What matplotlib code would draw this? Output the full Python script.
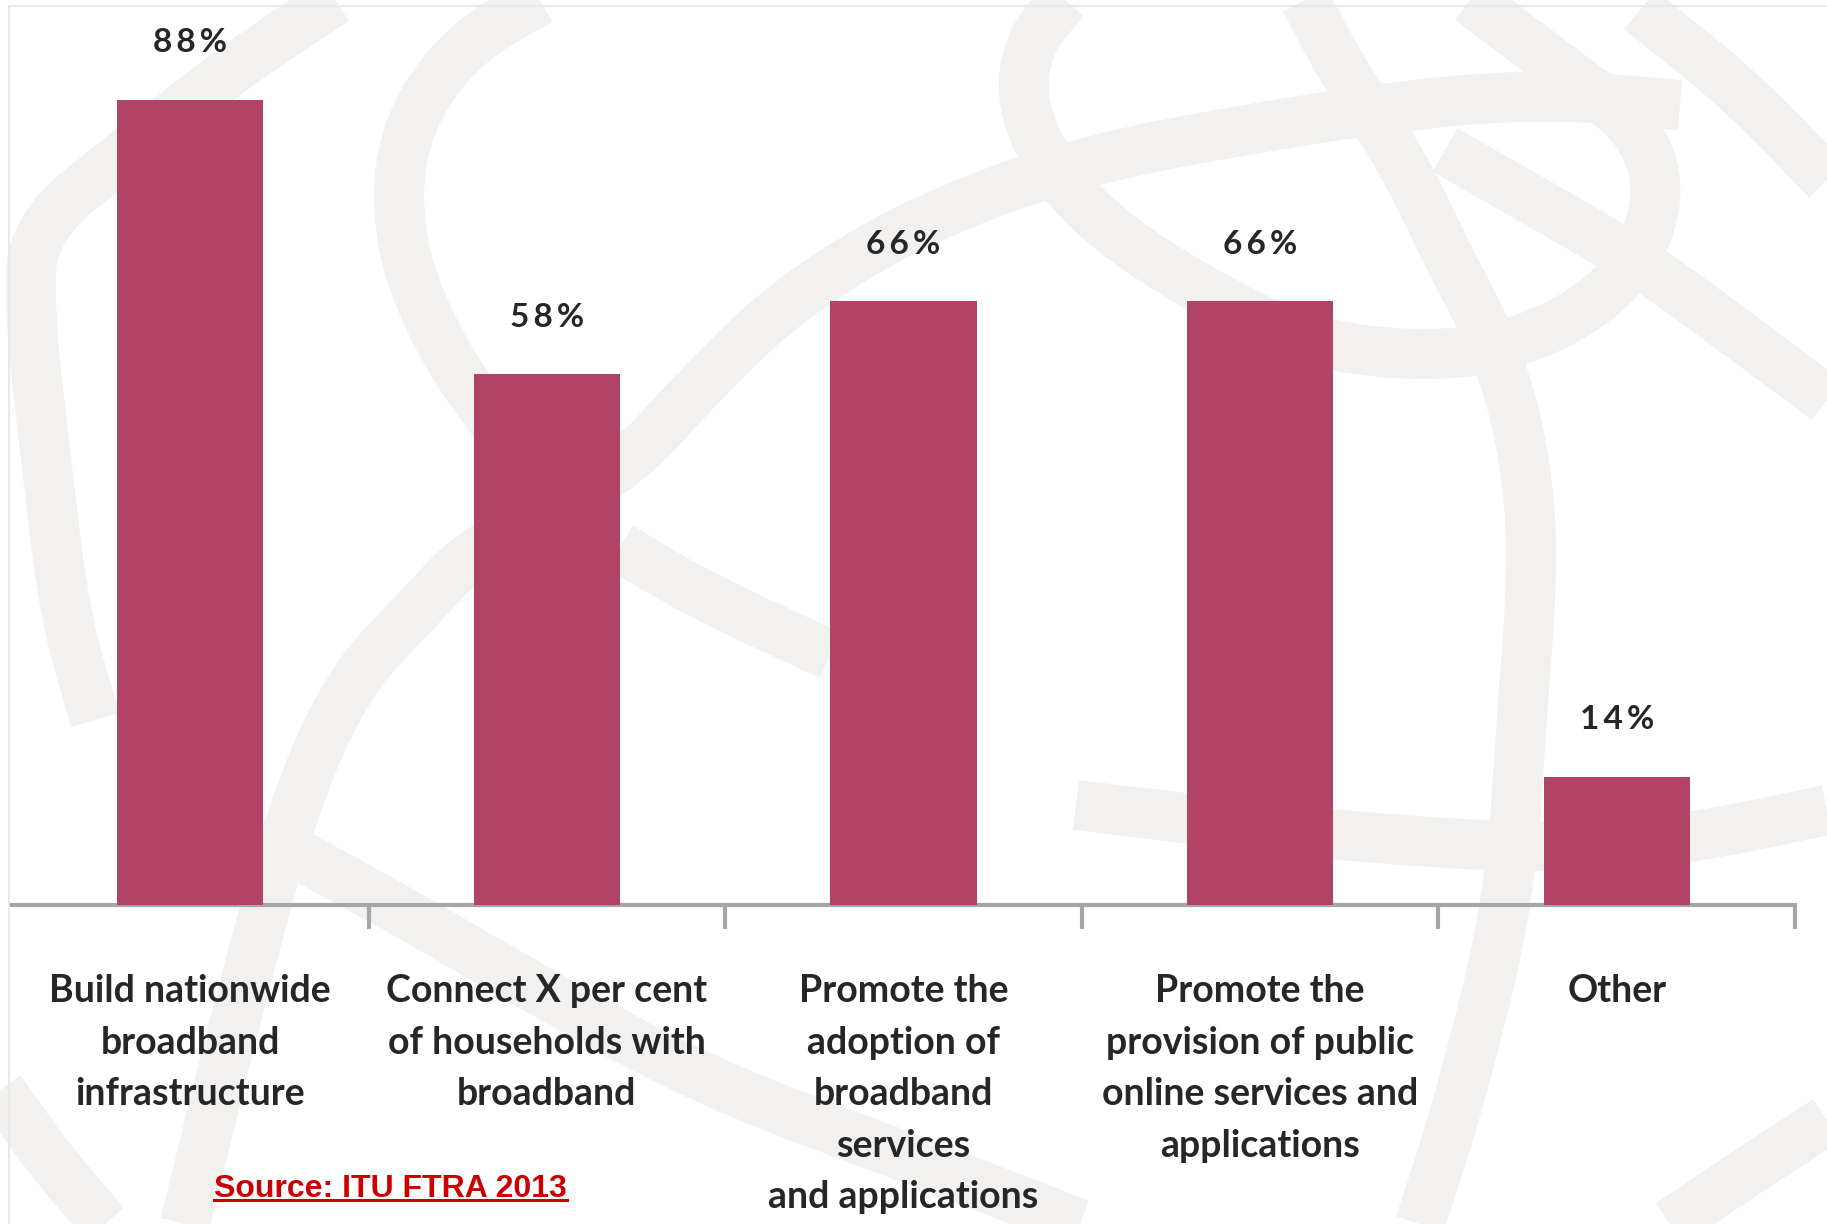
import numpy as np
import matplotlib.pyplot as plt
from matplotlib.lines import Line2D

# data
categories = [
    "Build nationwide\nbroadband\ninfrastructure",
    "Connect X per cent\nof households with\nbroadband",
    "Promote the\nadoption of\nbroadband\nservices\nand applications",
    "Promote the\nprovision of public\nonline services and\napplications",
    "Other",
]
shares = [88, 58, 66, 66, 14]
value_labels = ["88%", "58%", "66%", "66%", "14%"]
source_note = "Source: ITU FTRA 2013"

BAR = "#b04366"
AXIS = "#a6a6a6"
TXT = "#262626"
WM = "#f2f1ef"

W, H = 1827, 1224
fig = plt.figure(figsize=(W / 100, H / 100), dpi=100)
fig.patch.set_facecolor("white")

# faint ITU globe watermark, pixel coordinates with y pointing down
bg = fig.add_axes([0, 0, 1, 1], zorder=0)
bg.set_xlim(0, W)
bg.set_ylim(H, 0)
bg.axis("off")

strokes = [
    # left rim of the globe
    [(335, 0), (230, 70), (130, 150), (32, 228), (30, 320), (45, 450), (64, 612), (95, 720)],
    # inner "C"
    [(540, 0), (470, 40), (420, 100), (397, 170), (402, 250), (428, 320), (462, 380), (500, 430)],
    # long latitude from bottom-left to top-right
    [(185, 1224), (240, 1000), (295, 800), (350, 680), (420, 607), (473, 550), (620, 473),
     (700, 385), (787, 300), (914, 222), (1080, 160), (1300, 120), (1450, 100), (1560, 95),
     (1680, 105)],
    [(620, 547), (700, 595), (830, 655)],
    [(290, 850), (400, 910), (520, 980), (700, 1080), (914, 1160), (1080, 1224)],
    [(0, 1090), (50, 1160), (105, 1224)],
    # lower latitude on the right
    [(1076, 805), (1200, 820), (1333, 835), (1500, 847), (1600, 845), (1693, 838), (1827, 810)],
    # upper loop
    [(1065, 0), (1030, 40), (1020, 100), (1050, 170), (1110, 232), (1200, 290), (1300, 340),
     (1400, 356), (1500, 350), (1590, 310), (1645, 250), (1660, 180), (1635, 125), (1590, 90),
     (1530, 45), (1470, 0)],
    # meridian
    [(1305, 0), (1345, 75), (1400, 157), (1450, 260), (1490, 337), (1518, 420), (1532, 520),
     (1530, 612), (1523, 700), (1510, 900), (1460, 1100), (1420, 1224)],
    [(1445, 150), (1620, 250), (1672, 285), (1827, 400)],
    [(1640, 10), (1740, 90), (1827, 180)],
    [(1670, 1224), (1750, 1170), (1827, 1120)],
]


def chaikin(pts, n=3):
    # corner cutting so the watermark strokes look round
    p = np.asarray(pts, dtype=float)
    for _ in range(n):
        q = 0.75 * p[:-1] + 0.25 * p[1:]
        r = 0.25 * p[:-1] + 0.75 * p[1:]
        mid = np.empty((2 * len(q), 2))
        mid[0::2] = q
        mid[1::2] = r
        p = np.vstack([p[:1], mid, p[-1:]])
    return p


for s in strokes:
    p = chaikin(s)
    bg.plot(p[:, 0], p[:, 1], color=WM, lw=36, solid_capstyle="butt",
            solid_joinstyle="round")

# light frame
bg.plot([9, 9, W], [H, 6, 6], color="#e9e9e9", lw=1.5)

# main chart
ax = fig.add_axes([12 / W, (H - 905) / H, 1783 / W, 95 * 9.15 / H], zorder=1)
ax.patch.set_alpha(0)
x = np.arange(len(shares))
ax.bar(x, shares, width=0.41, color=BAR, zorder=3)
ax.set_xlim(-0.5, 4.5)
ax.set_ylim(0, 95)

for s in ["top", "right", "left"]:
    ax.spines[s].set_visible(False)
ax.spines["bottom"].set_color(AXIS)
ax.spines["bottom"].set_linewidth(3)
ax.set_yticks([])

ax.set_xticks(x)
ax.set_xticklabels(categories)
ax.set_xticks(np.arange(0.5, 5, 1), minor=True)
ax.tick_params(axis="x", which="major", length=0, pad=50)
ax.tick_params(axis="x", which="minor", length=17, width=3, color=AXIS)
for lab in ax.get_xticklabels():
    lab.set_fontfamily(["Lato", "DejaVu Sans"])
    lab.set_fontweight("bold")
    lab.set_fontsize(27)
    lab.set_color(TXT)
    lab.set_linespacing(1.62)

for xi, v, lab in zip(x, shares, value_labels):
    ax.annotate("\u2009".join(lab), (xi, v), xytext=(0, 41), textcoords="offset points",
                ha="center", va="center", fontsize=24, fontweight="bold",
                color=TXT, family=["Lato", "DejaVu Sans"])

src = fig.text(214 / W, (H - 1197) / H, source_note, ha="left", va="baseline",
               fontsize=23, fontweight="bold", color="#cc0000",
               family=["Liberation Sans Narrow", "Liberation Sans", "DejaVu Sans"])
fig.canvas.draw()
bb = src.get_window_extent().transformed(fig.transFigure.inverted())
fig.add_artist(Line2D([bb.x0, bb.x1], [(H - 1200) / H] * 2, color="#cc0000", lw=2.2,
                      transform=fig.transFigure))

plt.savefig("out.png", dpi=100)
